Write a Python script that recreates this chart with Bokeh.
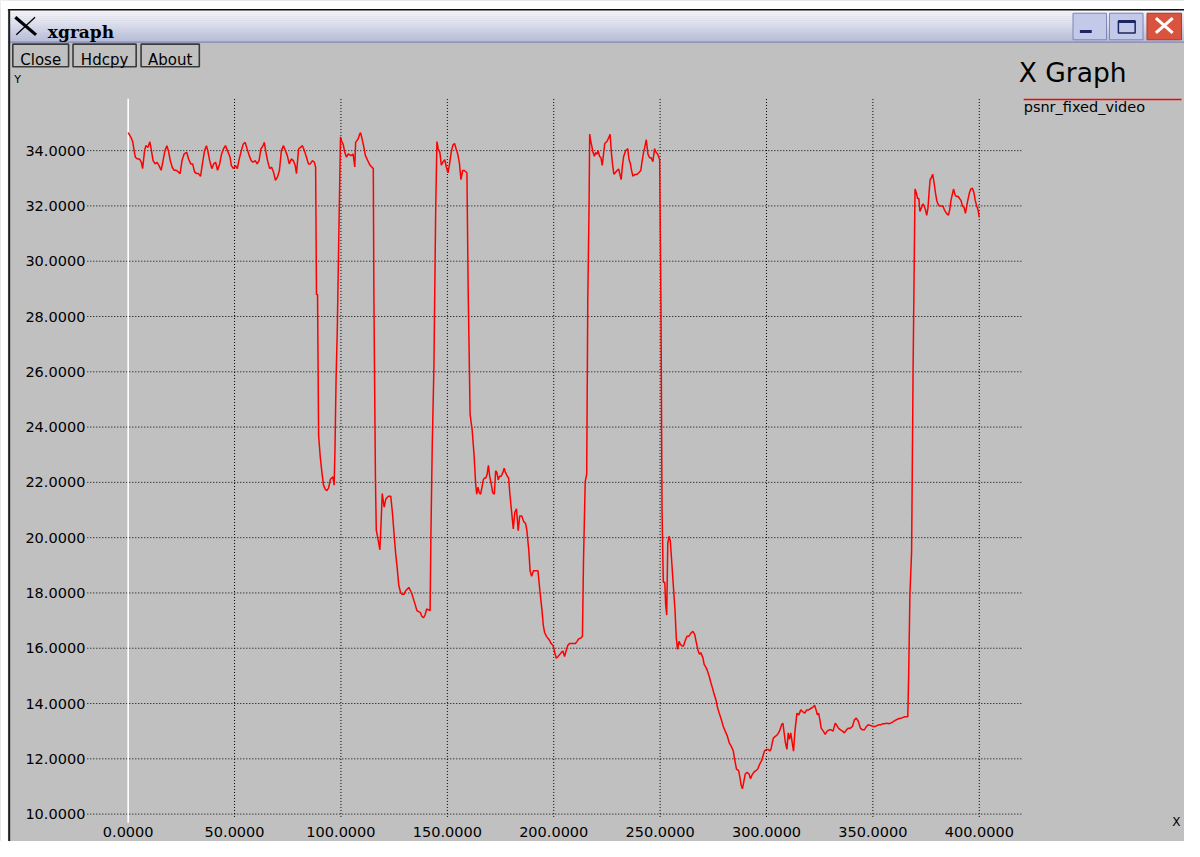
from bokeh.plotting import figure
from bokeh.models import Range1d
from bokeh.core.properties import value
from bokeh.embed import file_html
from bokeh.resources import INLINE

# ---------------- data ----------------
frame = [0, 1.5, 2.2, 2.8, 3.4, 4.3, 5.3, 6.2, 6.8, 7.7, 8.3, 9.3, 10.2, 10.8, 11.7, 12.7, 13.6, 14.5, 15.5,
         16.4, 17.3, 18.2, 18.9, 19.8, 20.7, 21.6, 22.6, 23.5, 24.4, 25.3, 26.3, 27.5, 28.4, 29.4, 30.3, 31.2,
         32.1, 33.1, 34.0, 34.9, 35.9, 36.8, 37.4, 38.3, 39.3, 40.2, 41.1, 42.0, 43.0, 43.9, 44.8, 45.7, 46.7,
         47.3, 47.9, 48.5, 49.5, 50.4, 51.3, 52.2, 53.2, 54.1, 55.0, 55.9, 56.9, 57.8, 58.7, 59.7, 60.6, 61.5,
         62.4, 63.4, 64.0, 64.6, 65.5, 66.5, 67.4, 68.3, 69.2, 70.2, 71.1, 72.0, 73.0, 73.9, 74.8, 75.7, 76.7,
         77.6, 78.5, 79.1, 80.1, 81.0, 81.9, 82.8, 83.8, 84.7, 85.6, 86.6, 87.5, 88.1,
         88.5, 89.0, 89.5, 90.3, 91.0, 91.8, 92.6, 93.4, 94.2, 95.0, 96.2, 96.8, 97.2, 97.7, 98.3, 99.1, 99.8,
         100.3, 101.0, 101.8, 102.6, 103.4, 104.9, 105.7, 106.5, 106.9, 108.0, 108.8, 109.2, 109.8, 110.8,
         111.5, 112.6, 113.7, 115.2, 115.5, 116.2, 116.6, 117.2, 118.3, 118.9, 119.4, 120.3, 121.1, 122.3,
         123.4, 124.2, 125.0, 125.7, 126.5, 127.2,
         128.1, 128.8, 129.6, 130.4, 131.9, 132.7, 133.4, 134.2, 135.0, 135.7, 137.3, 138.0, 138.8, 139.6,
         140.3, 141.9, 142.3, 142.9, 143.7, 144.5, 145.1, 145.7, 146.5, 147.2, 148.0, 148.8, 149.5, 150.3,
         151.1, 151.8, 152.6, 153.4, 154.1, 154.9, 155.7, 156.4, 157.2, 158.0, 159.2, 159.8, 160.7, 161.7,
         162.6, 163.3, 163.8, 164.4, 165.0, 165.6, 166.3, 166.9, 167.5, 168.1, 168.7, 169.3, 169.9, 170.6,
         171.3, 172.1, 172.7, 173.3, 173.9, 174.5, 175.3, 176.1, 176.7, 177.3, 178.2, 178.8, 179.4, 180.4,
         181.0, 181.7, 182.5, 183.3, 184.0, 185.0, 185.9, 186.8, 187.4, 188.3, 188.9, 189.6, 190.5, 191.7,
         192.6, 193.6, 194.5, 195.1, 195.7, 196.6, 197.9, 198.8, 199.7, 200.5, 201.2, 202.0, 202.8, 203.5,
         204.3, 205.1, 205.8, 206.6, 207.4, 208.9, 210.2, 210.9, 211.7, 212.8, 213.5, 214.0, 214.8, 215.5,
         216.0, 216.6, 216.9,
         217.4, 217.8, 218.5, 219.1, 219.7, 220.3, 220.9, 221.5, 222.2, 222.8, 223.4, 224.0, 225.0, 225.8,
         226.5, 227.1, 227.7, 228.3, 228.9, 229.8, 230.5, 231.1, 231.7, 232.3, 232.9, 233.8, 234.8, 235.4,
         236.0, 236.6, 237.2, 238.2, 239.1, 240.0, 240.9, 241.5, 242.2, 242.8, 243.5, 244.3, 245.1, 245.8,
         246.6, 247.4, 248.2, 248.9, 249.8, 250.4, 250.9,
         251.5, 252.2, 252.6, 253.1, 253.6, 254.2, 254.8, 255.4, 256.1, 257.0, 257.6, 258.2, 258.9, 259.5,
         260.4, 261.0, 261.7, 262.6, 263.5, 264.5, 265.4, 266.3, 266.9, 267.9, 268.5, 269.1, 270.1, 270.7,
         271.6, 272.2, 273.2, 273.8, 274.7, 275.3, 276.3, 276.9, 277.8, 278.8, 279.7, 280.6, 281.6, 282.5,
         283.4, 284.4, 285.0, 285.9, 286.9, 287.5, 288.1, 288.7, 289.3, 290.0, 290.9, 291.8, 292.5, 293.1,
         294.0, 295.0, 295.9, 296.8, 297.7, 298.4, 299.0, 300.0, 300.9, 301.5, 302.1, 302.7, 303.3, 304.3,
         305.2, 306.1, 307.1, 307.7, 308.3, 308.9, 309.6, 310.2, 310.8, 311.4, 312.1, 312.7, 313.3, 314.3,
         315.2, 316.1, 317.0, 318.0, 318.9, 319.8, 320.8, 322.0, 322.6, 323.3, 323.9, 324.5, 325.1, 325.7,
         326.7, 327.6, 328.5, 329.5, 330.4, 331.3, 332.3, 332.9, 333.8, 334.8, 335.7, 336.6, 337.6, 338.5,
         339.4, 340.4, 341.3, 342.2, 343.2, 344.1, 345.1, 346.0, 347.0, 347.8, 349.1, 350.0, 350.9, 351.9,
         352.8, 353.7, 354.7, 355.6, 356.5, 357.8,
         359.0, 360.5, 362.0, 363.6, 365.1, 366.4, 366.8, 367.4, 368.2, 368.9, 369.8, 370.4, 371.0, 371.6,
         372.1, 372.8, 373.5, 374.1, 374.7, 375.3, 375.9, 376.4, 376.9, 377.5, 378.1, 378.8, 379.4, 380.0,
         380.6, 381.3, 382.9, 383.6, 384.6, 385.5, 386.1, 386.7, 387.3, 387.9, 388.6, 389.2, 390.1, 390.7,
         391.4, 392.1, 392.9, 393.5, 394.1, 394.8, 395.4, 396.0, 396.8, 397.5, 398.1, 398.8, 399.4, 400.0]

psnr = [34.65, 34.45, 34.3, 34.0, 33.76, 33.7, 33.7, 33.58, 33.35, 34.0, 34.18, 34.12, 34.32, 34.06, 33.64,
        33.52, 33.58, 33.46, 33.29, 33.64, 34.0, 34.18, 34.0, 33.64, 33.4, 33.29, 33.29, 33.23, 33.17, 33.64,
        33.88, 33.94, 33.7, 33.52, 33.52, 33.23, 33.17, 33.17, 33.07, 33.52, 34.0, 34.18, 34.0, 33.64, 33.35,
        33.52, 33.58, 33.29, 33.52, 33.88, 34.06, 34.18, 34.0, 33.88, 33.76, 33.46, 33.35, 33.46, 33.35, 33.7,
        34.0, 34.24, 34.3, 34.06, 33.82, 33.64, 33.58, 33.64, 33.52, 33.64, 34.06, 34.18, 34.3, 34.0, 33.64,
        33.35, 33.4, 33.23, 32.93, 33.05, 33.29, 34.0, 34.18, 34.0, 33.82, 33.52, 33.7, 33.64, 33.46, 33.17,
        34.06, 34.12, 34.18, 34.0, 33.76, 33.52, 33.52, 33.64, 33.58, 33.4,
        28.8, 28.8, 23.7, 22.9, 22.4, 21.9, 21.75, 21.7, 21.8, 22.1, 22.2, 21.9, 23.2, 25.7, 27.6, 31.4, 34.5,
        34.35, 34.24, 33.94, 33.76, 33.88, 33.82, 33.88, 33.41, 34.3, 34.41, 34.59, 34.65, 34.47, 34.12,
        33.82, 33.64, 33.47, 33.35, 28.56, 22.2, 20.27, 20.04, 19.56, 20.6, 21.6, 21.1, 21.4, 21.5,
        21.5, 20.9, 20.1, 19.44, 18.85, 18.26,
        18.0, 17.95, 17.95, 18.08, 18.2, 18.08, 17.95, 17.75, 17.55, 17.36, 17.29, 17.16, 17.1, 17.22,
        17.42, 17.36, 20.2, 23.3, 26.2, 31.7, 34.33, 34.07, 33.93, 33.47, 33.6, 33.67, 33.41, 33.2,
        33.54, 33.93, 34.2, 34.26, 34.07, 33.87, 33.54, 32.95, 33.28, 33.28, 33.2, 28.93, 24.46, 23.87,
        22.95, 21.96, 21.57, 21.83, 21.63, 21.57, 21.83, 22.09, 22.16, 22.16, 22.29, 22.62, 22.22, 21.96,
        21.63, 21.57, 22.42, 22.36, 22.09, 22.22, 22.22, 22.36, 22.51, 22.36, 22.22, 22.16, 21.57, 20.78,
        20.32, 20.91, 21.04, 20.25, 20.78, 20.78, 20.58, 20.51, 20.25, 19.53, 18.8, 18.6, 18.8, 18.8,
        18.8, 18.0, 17.36, 16.83, 16.57, 16.43, 16.3, 16.17, 16.1, 15.84, 15.64, 15.7, 15.77, 15.84,
        15.9, 15.7, 15.9, 16.1, 16.17, 16.17, 16.17, 16.24, 16.34, 16.37, 16.43, 19.2, 22.03, 22.3,
        28.54, 31.96, 34.6,
        34.33, 34.2, 33.93, 33.8, 33.93, 33.87, 34.0, 33.8, 33.74, 33.47, 33.87, 34.26, 34.33, 34.46,
        34.59, 33.93, 33.47, 33.14, 33.2, 33.28, 33.34, 33.14, 32.95, 33.47, 33.8, 34.0, 34.07, 33.67,
        33.54, 33.28, 33.08, 33.14, 33.14, 33.2, 33.28, 33.6, 33.93, 34.13, 34.4, 33.87, 33.74, 33.74,
        33.6, 34.07, 33.93, 33.87, 33.67, 28.34, 21.0,
        18.39, 18.39, 17.6, 17.2, 19.8, 20.05, 19.87, 19.2, 18.39, 17.38, 16.37, 15.96, 16.25, 16.14,
        16.08, 16.08, 16.25, 16.43, 16.43, 16.55, 16.61, 16.49, 16.25, 15.9, 15.78, 15.84, 15.66, 15.42,
        15.3, 15.19, 14.95, 14.77, 14.54, 14.36, 14.12, 13.88, 13.65, 13.41, 13.17, 13.0, 12.82, 12.58,
        12.46, 12.28, 11.99, 11.63, 11.57, 11.34, 11.04, 10.92, 11.16, 11.45, 11.51, 11.45, 11.28, 11.4,
        11.51, 11.57, 11.63, 11.81, 11.93, 12.11, 12.28, 12.34, 12.34, 12.28, 12.34, 12.58, 12.76, 12.82,
        12.88, 13.0, 13.23, 13.29, 12.94, 12.58, 12.34, 12.94, 12.7, 12.94, 12.58, 12.28, 12.94, 13.65,
        13.59, 13.77, 13.71, 13.65, 13.77, 13.77, 13.82, 13.88, 13.94, 13.77, 13.59, 13.65, 13.41, 13.11,
        13.0, 12.88, 13.0, 13.05, 13.05, 13.0, 13.29, 13.23, 13.11, 13.05, 13.0, 12.94, 13.05, 13.11,
        13.11, 13.17, 13.41, 13.47, 13.35, 13.11, 13.05, 13.05, 13.17, 13.23, 13.2, 13.17, 13.17, 13.2,
        13.23, 13.23, 13.27, 13.27, 13.29, 13.27,
        13.32, 13.39, 13.45, 13.48, 13.52, 13.52, 14.95, 17.94, 19.5, 26.09, 32.61, 32.48, 32.27, 32.27,
        31.8, 31.93, 32.07, 32.0, 31.86, 31.66, 31.93, 32.48, 32.95, 33.02, 33.15, 32.82, 32.48, 32.2,
        32.07, 32.0, 32.0, 31.86, 31.73, 31.66, 31.86, 32.2, 32.41, 32.61, 32.41, 32.34, 32.34, 32.27,
        32.2, 32.0, 31.93, 31.73, 32.0, 32.27, 32.48, 32.61, 32.64, 32.48, 32.2, 32.0, 31.86, 31.59]

x_ticks = [0, 50, 100, 150, 200, 250, 300, 350, 400]
y_ticks = [10, 12, 14, 16, 18, 20, 22, 24, 26, 28, 30, 32, 34]
x_tick_labels = ["%.4f" % v for v in x_ticks]
y_tick_labels = ["%.4f" % v for v in y_ticks]
window_title = "xgraph"
button_labels = ["Close", "Hdcpy", "About"]
plot_title = "X Graph"
series_name = "psnr_fixed_video"
x_name = "X"
y_name = "Y"

# ---------------- layout / calibration ----------------
# The canvas is a uniformly scaled copy of the 1200x857 window picture.
W, H = 1184, 841
REF_W, REF_H = 1200, 857
X0_PX, XS = 129.4, 2.1565     # picture pixel of x=0, picture pixels per frame
Y34_PX, YS = 153.0, 28.17     # picture pixel of y=34, picture pixels per dB


def dx(px):
    return (px - X0_PX) / XS


def dy(py):
    return 34.0 - (py - Y34_PX) / YS


FONT = value("DejaVu Sans")

p = figure(width=W, height=H, title=None,
           x_range=Range1d(dx(0), dx(REF_W)), y_range=Range1d(dy(REF_H), dy(0)),
           x_axis_location=None, y_axis_location=None,
           output_backend="svg", toolbar_location=None, tools="",
           min_border=0, min_border_left=0, min_border_right=0, min_border_top=0, min_border_bottom=0,
           background_fill_color="#c0c0c0", border_fill_color="#c0c0c0", outline_line_color=None)
p.grid.visible = False


def box(l, t, r, b, **kw):
    p.quad(left=[dx(l)], right=[dx(r)], top=[dy(t)], bottom=[dy(b)], **kw)


def seg(x0, y0, x1, y1, **kw):
    p.segment(x0=[dx(x0)], y0=[dy(y0)], x1=[dx(x1)], y1=[dy(y1)], **kw)


def txt(x, y, s, size, align="left", baseline="alphabetic", font=FONT, style="normal", color="#000000"):
    p.text(x=[dx(x)], y=[dy(y)], text=[s], text_font=font, text_font_size=size, text_align=align,
           text_baseline=baseline, text_font_style=style, text_color=color)


# ---------- window chrome ----------
box(0, 0, REF_W, 9, fill_color="#ffffff", line_color=None)
box(0, 0, 7.5, REF_H, fill_color="#ffffff", line_color=None)
top_c = (246, 246, 252)
bot_c = (184, 189, 216)
n = 16
y_a, y_b = 10.0, 42.0
for i in range(n):
    t = i / (n - 1)
    c = tuple(int(top_c[k] + (bot_c[k] - top_c[k]) * t) for k in range(3))
    col = "#%02x%02x%02x" % c
    box(8, y_a + (y_b - y_a) * i / n, REF_W, y_a + (y_b - y_a) * (i + 1) / n + 0.3,
        fill_color=col, line_color=None)
seg(7.5, 9.5, REF_W, 9.5, line_color="#101010", line_width=1.5)
seg(8, 42.5, REF_W, 42.5, line_color="#8088b0", line_width=1.2)
seg(8.8, 9, 8.8, REF_H, line_color="#202020", line_width=2)

# X logo + window title
seg(15, 17, 36, 35, line_color="#000000", line_width=3.2)
seg(35, 17, 16, 35, line_color="#000000", line_width=1.3)
txt(48, 32.5, window_title, "17px", font=value("DejaVu Serif"), style="bold")

# window controls
box(1087, 13, 1121, 40, fill_color="#c3c9e8", line_color="#7e86b6", line_width=1)
box(1094, 30, 1106, 33, fill_color="#1c2660", line_color=None)
box(1124, 13, 1158, 40, fill_color="#c3c9e8", line_color="#7e86b6", line_width=1)
box(1133, 21, 1150, 33, fill_color=None, line_color="#1c2660", line_width=1.5)
seg(1133, 21.5, 1150, 21.5, line_color="#1c2660", line_width=3)
box(1162, 13, 1197, 40, fill_color="#d9543f", line_color="#a83a2a", line_width=1)
seg(1171, 18, 1188, 33, line_color="#ffffff", line_width=3)
seg(1188, 18, 1171, 33, line_color="#ffffff", line_width=3)

# xgraph buttons
btn_boxes = [(12.5, 69), (73.5, 137.5), (142.5, 201.5)]
for (l, r), lab in zip(btn_boxes, button_labels):
    box(l, 44.5, r, 67.5, fill_color="#c0c0c0", line_color="#3a3a3a", line_width=1.6)
    txt((l + r) / 2, 61, lab, "15px", align="center")

txt(14, 80, y_name, "11px", baseline="middle")
txt(1032, 73, plot_title, "26.5px")

# legend
seg(1037, 101, 1197, 101, line_color="#ff0000", line_width=1.5)
txt(1037, 109, series_name, "14.5px", baseline="middle")

# ---------- grid, tick labels ----------
GL, GR, GT, GB = 88, 1035, 100, 832
p.segment(x0=[dx(GL)] * len(y_ticks), y0=y_ticks, x1=[dx(GR)] * len(y_ticks), y1=y_ticks,
          line_color="#000000", line_width=1, line_dash="1 2")
vx = [v for v in x_ticks if v != 0]
p.segment(x0=vx, y0=[dy(GB)] * len(vx), x1=vx, y1=[dy(GT)] * len(vx),
          line_color="#000000", line_width=1, line_dash="1 2")
# zero axis
p.segment(x0=[0], y0=[dy(838)], x1=[0], y1=[dy(GT)], line_color="#ffffff", line_width=1.6)

p.text(x=[dx(86)] * len(y_ticks), y=y_ticks, text=y_tick_labels, text_font=FONT, text_font_size="14.5px",
       text_align="right", text_baseline="middle", text_color="#000000")
p.text(x=x_ticks, y=[dy(847)] * len(x_ticks), text=x_tick_labels, text_font=FONT, text_font_size="14.5px",
       text_align="center", text_baseline="middle", text_color="#000000")
txt(1196, 837, x_name, "12px", align="right", baseline="middle")

# ---------- data ----------
p.line(frame, psnr, line_color="#ff0000", line_width=1.5)

open("out.html", "w").write(file_html(p, INLINE))
